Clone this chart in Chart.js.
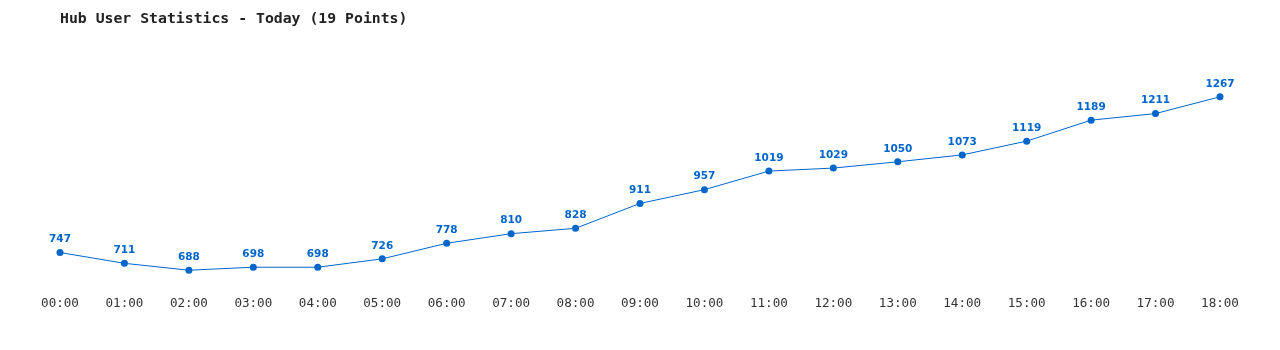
<!DOCTYPE html>
<html><head><meta charset="utf-8">
<script src="https://cdn.jsdelivr.net/npm/chart.js@4"></script>
<style>html,body{margin:0;padding:0;background:#fff}#wrap{width:1280px;height:350px}</style>
</head><body><div id="wrap"><canvas id="c"></canvas></div>
<script>
const titleText = "Hub User Statistics - Today (19 Points)";
const categories = ["00:00","01:00","02:00","03:00","04:00","05:00","06:00","07:00","08:00","09:00","10:00","11:00","12:00","13:00","14:00","15:00","16:00","17:00","18:00"];
const users = [747,711,688,698,698,726,778,810,828,911,957,1019,1029,1050,1073,1119,1189,1211,1267];
const BLUE = "#0066cc";
const labelPlugin = {
  id: "pointLabels",
  afterDatasetsDraw(chart) {
    const ctx = chart.ctx;
    const meta = chart.getDatasetMeta(0);
    ctx.save();
    ctx.font = "bold 10.5px 'DejaVu Sans'";
    ctx.fillStyle = BLUE;
    ctx.textAlign = "center";
    ctx.textBaseline = "middle";
    meta.data.forEach((pt, i) => {
      ctx.fillText(String(users[i]), pt.x, pt.y - 13);
    });
    ctx.restore();
  }
};
new Chart(document.getElementById("c"), {
  type: "line",
  data: { labels: categories, datasets: [{
    data: users, borderColor: BLUE, backgroundColor: BLUE, borderWidth: 1,
    pointRadius: 3.5, pointBackgroundColor: BLUE, pointBorderWidth: 0, tension: 0, fill: false
  }]},
  options: {
    responsive: true, maintainAspectRatio: false, animation: false,
    layout: { padding: { left: 60, right: 60, top: 0, bottom: 34 } },
    plugins: {
      legend: { display: false }, tooltip: { enabled: false },
      title: { display: true, text: titleText, align: "start", color: "#222",
        font: { family: "'DejaVu Sans Mono'", size: 14.8, weight: "bold" },
        padding: { top: 10, bottom: 31 } }
    },
    scales: {
      x: { grid: { display: false, drawTicks: false }, border: { display: false },
        ticks: { color: "#333", padding: 5, maxRotation: 0, autoSkip: false,
          font: { family: "'DejaVu Sans Mono'", size: 12.6 } } },
      y: { display: false, min: 619, max: 1394 }
    }
  },
  plugins: [labelPlugin]
});
</script></body></html>
